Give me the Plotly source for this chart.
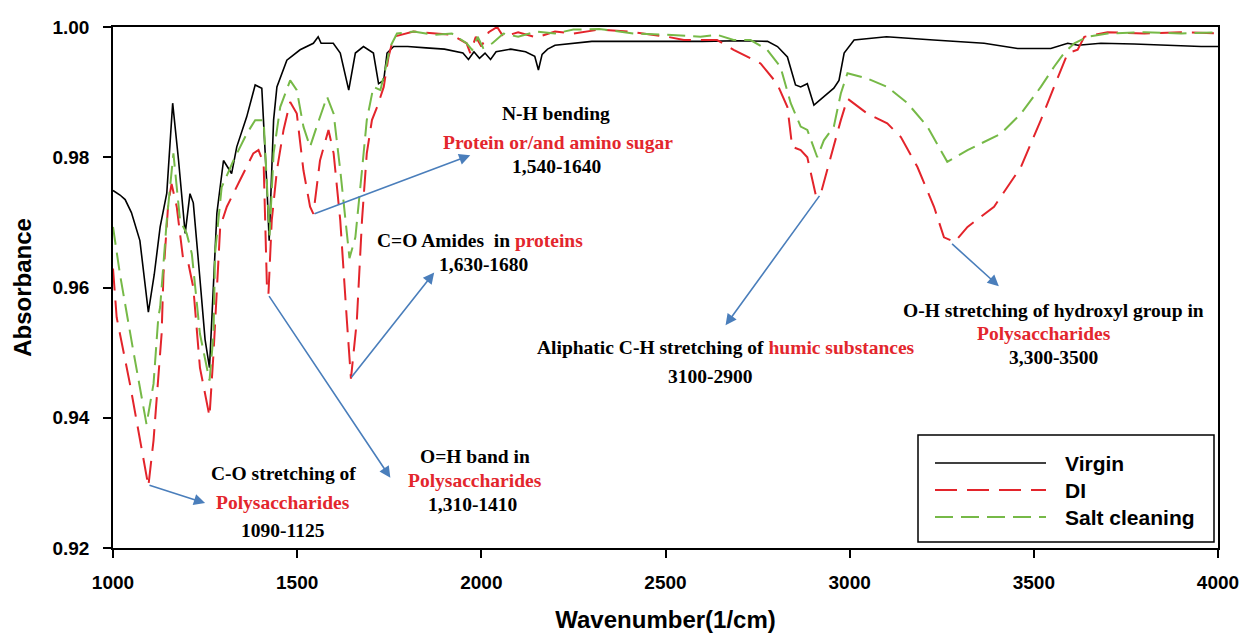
import plotly.graph_objects as go

# ---------------- data ----------------
series_names = ["Virgin", "DI", "Salt cleaning"]

virgin_x = [1000, 1019, 1033, 1050, 1073, 1096, 1112, 1128, 1146, 1162, 1178, 1196, 1209, 1218,
            1235, 1250, 1262, 1272, 1282, 1300, 1322, 1336, 1363, 1386, 1404, 1418, 1424, 1436,
            1445, 1472, 1508, 1544, 1557, 1565, 1598, 1617, 1640, 1658, 1680, 1707, 1721, 1735,
            1744, 1762, 1800, 1850, 1900, 1950, 1965, 1980, 1995, 2010, 2025, 2040, 2080, 2120,
            2145, 2155, 2165, 2180, 2200, 2300, 2400, 2500, 2600, 2700, 2777, 2804, 2831, 2853,
            2867, 2885, 2903, 2930, 2957, 2971, 2985, 3012, 3100, 3228, 3365, 3456, 3546, 3592,
            3620, 3682, 3772, 3954, 4000]
virgin_y = [0.9749, 0.9742, 0.9735, 0.9715, 0.9672, 0.9562, 0.9620, 0.9693, 0.9745, 0.9883, 0.9795,
            0.9683, 0.9744, 0.9730, 0.9620, 0.9520, 0.9477, 0.9600, 0.9714, 0.9795, 0.9775, 0.9816,
            0.9862, 0.9911, 0.9906, 0.9754, 0.9672, 0.9857, 0.9908, 0.9949, 0.9965, 0.9975, 0.9985,
            0.9975, 0.9975, 0.9960, 0.9903, 0.9960, 0.9970, 0.9960, 0.9913, 0.9918, 0.9960, 0.9970,
            0.9970, 0.9968, 0.9966, 0.9960, 0.9950, 0.9962, 0.9952, 0.9960, 0.9950, 0.9962, 0.9966,
            0.9962, 0.9955, 0.9934, 0.9958, 0.9966, 0.9972, 0.9978, 0.9978, 0.9977, 0.9978, 0.9979,
            0.9978, 0.9970, 0.9954, 0.9911, 0.9908, 0.9913, 0.9880, 0.9893, 0.9906, 0.9918, 0.9960,
            0.9980, 0.9985, 0.9980, 0.9975, 0.9967, 0.9967, 0.9975, 0.9972, 0.9975, 0.9974, 0.9970,
            0.9970]

di_x = [1000, 1010, 1046, 1073, 1096, 1110, 1132, 1137, 1150, 1159, 1173, 1191, 1205, 1218,
        1236, 1262, 1273, 1291, 1309, 1345, 1381, 1395, 1409, 1418, 1422, 1431, 1445, 1463,
        1481, 1499, 1517, 1535, 1544, 1562, 1585, 1599, 1617, 1635, 1646, 1662, 1676, 1689,
        1703, 1717, 1735, 1748, 1762, 1816, 1870, 1920, 1960, 1970, 1985, 2000, 2020, 2043,
        2060, 2100, 2150, 2200, 2250, 2320, 2400, 2505, 2550, 2640, 2685, 2758, 2803, 2831,
        2844, 2867, 2885, 2908, 2921, 2948, 2976, 2994, 3048, 3102, 3139, 3184, 3229, 3256,
        3285, 3320, 3392, 3465, 3519, 3555, 3592, 3619, 3637, 3700, 3800, 3900, 4000]
di_y = [0.9629, 0.9554, 0.9452, 0.9365, 0.9295, 0.9365, 0.9529, 0.9620, 0.9729, 0.9759, 0.9724,
        0.9641, 0.9636, 0.9600, 0.9477, 0.9402, 0.9500, 0.9693, 0.9724, 0.9765, 0.9806, 0.9811,
        0.9790, 0.9600, 0.9590, 0.9703, 0.9780, 0.9842, 0.9885, 0.9867, 0.9780, 0.9724, 0.9713,
        0.9795, 0.9842, 0.9806, 0.9703, 0.9549, 0.9460, 0.9549, 0.9703, 0.9806, 0.9857, 0.9877,
        0.9908, 0.9954, 0.9985, 0.9993, 0.9990, 0.9988, 0.9975, 0.9960, 0.9985, 0.9970, 0.9992,
        1.0000, 0.9985, 0.9992, 0.9984, 0.9993, 0.9990, 0.9996, 0.9993, 0.9985, 0.9980, 0.9980,
        0.9965, 0.9944, 0.9913, 0.9877, 0.9816, 0.9811, 0.9800, 0.9742, 0.9743, 0.9800, 0.9857,
        0.9890, 0.9867, 0.9852, 0.9831, 0.9785, 0.9724, 0.9677, 0.9670, 0.9693, 0.9724, 0.9785,
        0.9857, 0.9908, 0.9960, 0.9965, 0.9985, 0.9992, 0.9990, 0.9992, 0.9990]

salt_x = [1000, 1019, 1055, 1091, 1110, 1123, 1128, 1146, 1164, 1182, 1200, 1214, 1236, 1262,
          1273, 1277, 1295, 1327, 1363, 1386, 1409, 1418, 1425, 1436, 1454, 1481, 1499, 1517,
          1535, 1553, 1581, 1599, 1617, 1642, 1658, 1676, 1689, 1707, 1726, 1739, 1753, 1771,
          1816, 1870, 1920, 1960, 1975, 1990, 2005, 2030, 2060, 2100, 2150, 2200, 2250, 2320,
          2413, 2505, 2595, 2640, 2685, 2731, 2776, 2812, 2840, 2867, 2885, 2912, 2930, 2957,
          2976, 2994, 3048, 3102, 3157, 3211, 3238, 3265, 3320, 3410, 3465, 3519, 3555, 3582,
          3610, 3646, 3700, 3800, 3900, 4000]
salt_y = [0.9693, 0.9620, 0.9503, 0.9390, 0.9452, 0.9554, 0.9570, 0.9703, 0.9806, 0.9703, 0.9683,
          0.9652, 0.9529, 0.9457, 0.9529, 0.9652, 0.9754, 0.9795, 0.9836, 0.9857, 0.9857, 0.9754,
          0.9680, 0.9806, 0.9877, 0.9918, 0.9903, 0.9847, 0.9816, 0.9847, 0.9893, 0.9867, 0.9780,
          0.9645, 0.9677, 0.9780, 0.9857, 0.9908, 0.9903, 0.9934, 0.9970, 0.9990, 0.9993, 0.9988,
          0.9990, 0.9975, 0.9965, 0.9985, 0.9968, 0.9975, 0.9990, 0.9985, 0.9993, 0.9990, 0.9996,
          0.9997, 0.9990, 0.9988, 0.9985, 0.9988, 0.9980, 0.9980, 0.9965, 0.9939, 0.9883, 0.9847,
          0.9842, 0.9800, 0.9826, 0.9847, 0.9898, 0.9929, 0.9921, 0.9908, 0.9883, 0.9847, 0.9821,
          0.9793, 0.9811, 0.9836, 0.9867, 0.9908, 0.9939, 0.9960, 0.9975, 0.9985, 0.9990, 0.9992,
          0.9990, 0.9992]

x_ticks = [1000, 1500, 2000, 2500, 3000, 3500, 4000]
y_ticks = [0.92, 0.94, 0.96, 0.98, 1.00]
y_tick_text = ["0.92", "0.94", "0.96", "0.98", "1.00"]

# ---------------- style ----------------
BLACK = "#000000"
RED = "#e3242b"
GREEN = "#76b947"
ARROW = "#4a7ebb"
TXT_RED = "#e3262d"
SERIF = "Liberation Serif"
SANS = "Liberation Sans"

W, H = 1242, 633
L, R, T, B = 113, 1218, 27, 548   # plot area in page pixels

def px(xp):
    return (xp - L) / (R - L)

def py(yp):
    return (B - yp) / (B - T)

fig = go.Figure()
styles = [
    dict(color=BLACK, width=1.6, dash="solid"),
    dict(color=RED, width=2.0, dash="22px,10px"),
    dict(color=GREEN, width=2.0, dash="18px,8px"),
]
for name, xs, ys, st in zip(series_names, [virgin_x, di_x, salt_x],
                            [virgin_y, di_y, salt_y], styles):
    fig.add_trace(go.Scatter(x=xs, y=ys, mode="lines", name=name, line=st,
                             showlegend=False, hoverinfo="x+y+name"))

annots = []
TS = 19.5

def label(x, y, text, color=BLACK, size=TS):
    annots.append(dict(x=x, y=y, xref="x", yref="y", text=text, showarrow=False,
                       xanchor="center", yanchor="middle",
                       font=dict(family=SERIF, size=size, color=color, weight="bold")))

def arrow(x0, y0, x1, y1):
    annots.append(dict(x=x1, y=y1, ax=x0, ay=y0, xref="x", yref="y", axref="x", ayref="y",
                       text="", showarrow=True, arrowhead=2, arrowsize=1.4, arrowwidth=1.6,
                       arrowcolor=ARROW, standoff=0, startstandoff=0))

# N-H bending
label(2204, 0.98677, "N-H bending")
label(2209, 0.98231, "Protein or/and amino sugar", TXT_RED)
label(2204, 0.97862, "1,540-1640")
arrow(1543, 0.97123, 1970, 0.9803)
# C=O amides
label(1997, 0.96723, 'C=O Amides  in <span style="color:%s">proteins</span>' % TXT_RED)
label(2005, 0.96354, "1,630-1680")
arrow(1644, 0.9460, 1872, 0.9623)
# O=H band
label(1984, 0.93400, "O=H band in")
label(1984, 0.93031, "Polysaccharides", TXT_RED)
label(1976, 0.92662, "1,310-1410")
arrow(1421, 0.9589, 1753, 0.9308)
# C-O stretching
label(1462, 0.93138, "C-O stretching of")
label(1462, 0.92692, "Polysaccharides", TXT_RED)
label(1462, 0.92262, "1090-1125")
arrow(1095, 0.9297, 1250, 0.9269)
# Aliphatic C-H
label(2663, 0.95077, 'Aliphatic C-H stretching of <span style="color:%s">humic substances</span>' % TXT_RED)
label(2622, 0.94630, "3100-2900")
arrow(2921, 0.9743, 2663, 0.9542)
# O-H stretching
label(3554, 0.95646, "O-H stretching of hydroxyl group in")
label(3527, 0.95292, "Polysaccharides", TXT_RED)
label(3554, 0.94923, "3,300-3500")
arrow(3274, 0.9669, 3405, 0.9602)

# manual legend (long line samples like the original)
shapes = [dict(type="rect", xref="paper", yref="paper", x0=px(918), x1=px(1214),
               y0=py(542), y1=py(435), line=dict(color=BLACK, width=1.5),
               fillcolor="white", layer="above")]
rows = [463, 490, 517]
for name, st, ry in zip(series_names, styles, rows):
    shapes.append(dict(type="line", xref="paper", yref="paper", x0=px(935), x1=px(1046),
                       y0=py(ry), y1=py(ry), layer="above",
                       line=dict(color=st["color"], width=st["width"], dash=st["dash"])))
    annots.append(dict(x=px(1063), y=py(ry), xref="paper", yref="paper", text=name,
                       showarrow=False, xanchor="left", yanchor="middle",
                       font=dict(family=SANS, size=21, color=BLACK, weight="bold")))

fig.update_layout(
    width=W, height=H,
    margin=dict(l=L, r=W - R, t=T, b=H - B, pad=0),
    paper_bgcolor="white", plot_bgcolor="white",
    annotations=annots, shapes=shapes,
    showlegend=False,
)
fig.update_xaxes(range=[1000, 4000], tickvals=x_ticks, ticks="outside", ticklen=8,
                 tickwidth=1.5, tickcolor=BLACK, showline=True, linecolor=BLACK, linewidth=1.5,
                 mirror=True, showgrid=False, zeroline=False, automargin=False,
                 ticklabeloverflow="allow",
                 tickfont=dict(family=SANS, size=19, color=BLACK, weight="bold"),
                 ticklabelstandoff=8,
                 title=dict(text="Wavenumber(1/cm)", standoff=26,
                            font=dict(family=SANS, size=24, color=BLACK, weight="bold")))
fig.update_yaxes(range=[0.92, 1.00], tickvals=y_ticks, ticktext=y_tick_text, ticks="outside",
                 ticklen=8, tickwidth=1.5, tickcolor=BLACK, showline=True, linecolor=BLACK,
                 linewidth=1.5, mirror=True, showgrid=False, zeroline=False, automargin=False,
                 tickfont=dict(family=SANS, size=19, color=BLACK, weight="bold"),
                 ticklabelstandoff=10,
                 title=dict(text="Absorbance", standoff=14,
                            font=dict(family=SANS, size=24, color=BLACK, weight="bold")))

fig.write_html("out.html", config={"displayModeBar": False},
               post_script="document.body.style.margin='0px';document.body.style.overflow='hidden';")
